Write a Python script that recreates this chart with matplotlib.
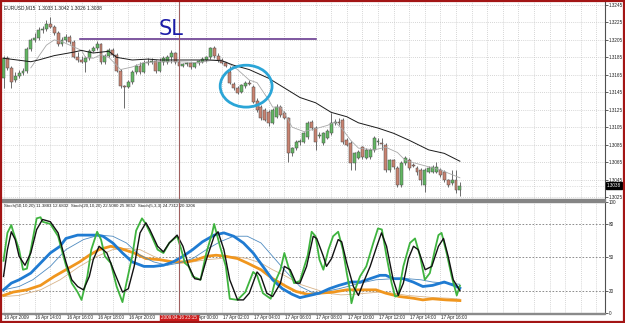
import numpy as np
import matplotlib
matplotlib.use("Agg")
import matplotlib.pyplot as plt
from matplotlib.patches import Ellipse, Rectangle
import matplotlib.transforms as mtransforms

# ---- price data (EURUSD M15, bar 0 = 16 Apr 2009 12:00) ----
opens = [1.3161, 1.3184, 1.3173, 1.3159, 1.3164, 1.3167, 1.3169, 1.3195, 1.3205, 1.3207,
         1.3216, 1.3217, 1.3223, 1.3220, 1.3213, 1.3200, 1.3205, 1.3208, 1.3203, 1.3185,
         1.3182, 1.3180, 1.3184, 1.3192, 1.3196, 1.3200, 1.3180, 1.3187, 1.3193, 1.3188,
         1.3169, 1.3152, 1.3151, 1.3157, 1.3168, 1.3175, 1.3168, 1.3179, 1.3180, 1.3181,
         1.3169, 1.3180, 1.3180, 1.3185, 1.3190, 1.3180, 1.3175, 1.3177, 1.3178, 1.3174,
         1.3179, 1.3180, 1.3182, 1.3185, 1.3196, 1.3186, 1.3182, 1.3178, 1.3168, 1.3155,
         1.3150, 1.3145, 1.3152, 1.3156, 1.3151, 1.3135, 1.3128, 1.3125, 1.3122, 1.3110,
         1.3117, 1.3128, 1.3121, 1.3115, 1.3075, 1.3081, 1.3088, 1.3088, 1.3094, 1.3111,
         1.3104, 1.3095, 1.3087, 1.3093, 1.3098, 1.3110, 1.3111, 1.3113, 1.3090, 1.3087,
         1.3064, 1.3070, 1.3082, 1.3070, 1.3071, 1.3079, 1.3088, 1.3087, 1.3085, 1.3056,
         1.3067, 1.3058, 1.3039, 1.3064, 1.3067, 1.3062, 1.3058, 1.3056, 1.3039, 1.3054,
         1.3054, 1.3054, 1.3056, 1.3054, 1.3044, 1.3041, 1.3044, 1.3033]
highs = [1.3187, 1.3187, 1.3175, 1.3168, 1.3171, 1.3173, 1.3197, 1.3207, 1.3213, 1.3220,
         1.3221, 1.3228, 1.3231, 1.3222, 1.3215, 1.3208, 1.3212, 1.3211, 1.3205, 1.3191,
         1.3187, 1.3187, 1.3195, 1.3198, 1.3204, 1.3201, 1.3189, 1.3196, 1.3196, 1.3190,
         1.3172, 1.3153, 1.3159, 1.3171, 1.3177, 1.3180, 1.3182, 1.3184, 1.3184, 1.3182,
         1.3184, 1.3187, 1.3188, 1.3193, 1.3191, 1.3182, 1.3179, 1.3180, 1.3180, 1.3180,
         1.3182, 1.3185, 1.3187, 1.3197, 1.3198, 1.3190, 1.3184, 1.3180, 1.3175, 1.3157,
         1.3152, 1.3155, 1.3158, 1.3159, 1.3153, 1.3138, 1.3130, 1.3127, 1.3125, 1.3127,
         1.3132, 1.3130, 1.3124, 1.3117, 1.3082, 1.3090, 1.3091, 1.3100, 1.3112, 1.3113,
         1.3106, 1.3099, 1.3100, 1.3103, 1.3121, 1.3114, 1.3115, 1.3116, 1.3093, 1.3089,
         1.3077, 1.3079, 1.3084, 1.3081, 1.3081, 1.3095, 1.3093, 1.3093, 1.3087, 1.3069,
         1.3069, 1.3060, 1.3066, 1.3072, 1.3070, 1.3064, 1.3061, 1.3058, 1.3058, 1.3060,
         1.3062, 1.3065, 1.3058, 1.3056, 1.3046, 1.3056, 1.3056, 1.3042]
lows = [1.3150, 1.3171, 1.3150, 1.3157, 1.3161, 1.3165, 1.3167, 1.3192, 1.3203, 1.3205,
        1.3213, 1.3215, 1.3219, 1.3211, 1.3198, 1.3198, 1.3203, 1.3200, 1.3184, 1.3180,
        1.3178, 1.3168, 1.3182, 1.3191, 1.3193, 1.3177, 1.3177, 1.3185, 1.3185, 1.3168,
        1.3150, 1.3127, 1.3150, 1.3154, 1.3166, 1.3166, 1.3167, 1.3176, 1.3177, 1.3167,
        1.3168, 1.3176, 1.3177, 1.3179, 1.3177, 1.3173, 1.3174, 1.3175, 1.3172, 1.3173,
        1.3176, 1.3179, 1.3180, 1.3183, 1.3184, 1.3180, 1.3177, 1.3174, 1.3154, 1.3148,
        1.3143, 1.3144, 1.3150, 1.3153, 1.3133, 1.3122, 1.3113, 1.3112, 1.3106, 1.3109,
        1.3115, 1.3117, 1.3114, 1.3065, 1.3072, 1.3079, 1.3085, 1.3087, 1.3092, 1.3102,
        1.3079, 1.3093, 1.3085, 1.3091, 1.3096, 1.3107, 1.3108, 1.3086, 1.3083, 1.3056,
        1.3056, 1.3068, 1.3069, 1.3068, 1.3069, 1.3077, 1.3085, 1.3079, 1.3054, 1.3054,
        1.3057, 1.3036, 1.3037, 1.3062, 1.3056, 1.3059, 1.3050, 1.3039, 1.3031, 1.3052,
        1.3052, 1.3052, 1.3048, 1.3042, 1.3037, 1.3039, 1.3030, 1.3026]
closes = [1.3184, 1.3173, 1.3157, 1.3164, 1.3167, 1.3169, 1.3195, 1.3205, 1.3207, 1.3216,
          1.3217, 1.3223, 1.3220, 1.3213, 1.3200, 1.3205, 1.3208, 1.3203, 1.3185, 1.3182,
          1.3180, 1.3184, 1.3192, 1.3196, 1.3200, 1.3180, 1.3187, 1.3193, 1.3188, 1.3169,
          1.3152, 1.3151, 1.3157, 1.3168, 1.3175, 1.3168, 1.3179, 1.3180, 1.3181, 1.3169,
          1.3180, 1.3184, 1.3185, 1.3190, 1.3180, 1.3175, 1.3177, 1.3178, 1.3174, 1.3179,
          1.3181, 1.3183, 1.3185, 1.3196, 1.3186, 1.3182, 1.3178, 1.3175, 1.3156, 1.3150,
          1.3144, 1.3153, 1.3156, 1.3155, 1.3134, 1.3125, 1.3115, 1.3113, 1.3110, 1.3125,
          1.3128, 1.3119, 1.3115, 1.3075, 1.3081, 1.3088, 1.3089, 1.3098, 1.3110, 1.3104,
          1.3088, 1.3096, 1.3098, 1.3101, 1.3110, 1.3111, 1.3110, 1.3088, 1.3085, 1.3064,
          1.3075, 1.3077, 1.3071, 1.3079, 1.3079, 1.3093, 1.3089, 1.3086, 1.3056, 1.3067,
          1.3059, 1.3039, 1.3064, 1.3070, 1.3058, 1.3061, 1.3054, 1.3044, 1.3056, 1.3058,
          1.3059, 1.3059, 1.3050, 1.3044, 1.3039, 1.3044, 1.3033, 1.3038]

# moving averages (bar, price)
ma_slow = [(0, 1.3184), (7, 1.3180), (9, 1.3182), (13, 1.3187), (18, 1.3191), (20, 1.3193),
           (23, 1.3190), (27, 1.3192), (29, 1.3185), (33, 1.3182), (37, 1.3183), (40, 1.3182),
           (45, 1.3182), (53, 1.3182), (56, 1.3181), (59, 1.3176), (63, 1.3171), (68, 1.3161),
           (72, 1.3150), (76, 1.3139), (80, 1.3133), (84, 1.3122), (88, 1.3117), (91, 1.3110),
           (96, 1.3104), (100, 1.3098), (104, 1.3090), (109, 1.3079), (113, 1.3075),
           (117, 1.3066)]
ma_fast = [(7, 1.3173), (11, 1.3199), (13, 1.3205), (15, 1.3203), (18, 1.3197), (20, 1.3193),
           (21, 1.3185), (23, 1.3184), (25, 1.3188), (27, 1.3185), (29, 1.3176), (30, 1.3171),
           (33, 1.3174), (36, 1.3179), (40, 1.3180), (45, 1.3180), (50, 1.3179), (54, 1.3182),
           (57, 1.3180), (60, 1.3171), (63, 1.3159), (65, 1.3156), (68, 1.3136), (69, 1.3128),
           (71, 1.3128), (72, 1.3121), (74, 1.3105), (77, 1.3100), (79, 1.3102), (83, 1.3107),
           (85, 1.3111), (87, 1.3102), (89, 1.3090), (91, 1.3081), (95, 1.3079), (98, 1.3082),
           (101, 1.3076), (103, 1.3067), (107, 1.3062), (112, 1.3056), (117, 1.3047)]

# stochastics (bar, value)
st5_main = [(0, 47), (1, 72), (2, 79), (2.5, 73), (4, 57), (5, 39), (6, 40), (7, 57), (8.5, 85),
            (9.5, 86), (10, 82), (12, 80), (14, 69), (16, 43), (17.5, 27), (19, 19), (20, 12),
            (21.5, 33), (22.5, 57), (24, 73), (25, 66), (26, 51), (27.5, 45), (29, 24),
            (30.5, 10), (31.5, 27), (33, 51), (34, 74), (35.5, 85), (36.5, 80), (38, 69),
            (39.5, 57), (41, 54), (42.5, 63), (44.5, 69), (45.5, 58), (46.5, 45), (47.5, 42),
            (48.5, 33), (50.5, 30), (52, 54), (53.5, 72), (54, 80), (55.5, 60), (57, 42),
            (58, 13), (60, 12), (62, 19), (64, 37), (65, 34), (66.5, 18), (68.5, 13),
            (69.5, 27), (71, 39), (72, 54), (73, 42), (74.5, 27), (76, 29), (78, 52), (79, 73),
            (80, 69), (81, 48), (82, 39), (83.3, 57), (84.5, 69), (85.8, 73), (87, 57), (88, 36),
            (88.8, 21), (89.2, 9), (90.1, 21), (91.4, 33), (93, 42), (94.8, 63), (96, 76),
            (97, 75), (98.2, 51), (99.5, 27), (100.4, 15), (101.2, 16), (102.5, 42),
            (104.2, 63), (105.5, 67), (106.8, 51), (108, 30), (109.3, 36), (110.6, 57),
            (111.5, 70), (112.3, 72), (113.6, 54), (114.9, 33), (116.2, 16), (117, 24.7)]
st5_sig = [(0, 33), (1, 57), (2, 73), (3, 66), (4, 51), (5.5, 43), (7, 54), (8.5, 75), (10, 84),
           (12, 82), (14, 72), (16, 46), (17.5, 30), (19, 24), (20.5, 21), (22, 33), (23, 48),
           (24.5, 60), (26.5, 54), (28.5, 36), (30.5, 19), (32, 22), (33.5, 42), (35, 72),
           (36.5, 81), (37.5, 75), (39.5, 60), (41, 55), (42.5, 63), (44.5, 70), (46, 60),
           (47.5, 42), (49, 31), (50.5, 30), (52, 48), (54, 69), (55, 73), (56.5, 57), (58, 30),
           (60, 12), (61.5, 12), (63, 18), (65, 37), (66, 33), (67.5, 18), (69, 15), (71, 27),
           (72, 42), (73.5, 39), (75, 27), (76, 27), (77.7, 42), (79.4, 69), (80.3, 67),
           (82, 51), (82.8, 42), (84.1, 49), (85.8, 66), (86.7, 64), (88, 45), (89.7, 24),
           (91, 16), (92.2, 27), (94, 42), (95.7, 60), (96.9, 72), (98.2, 60), (99.9, 30),
           (101.2, 16), (102.5, 27), (103.8, 49), (105.1, 60), (106.3, 57), (108.1, 39),
           (109.8, 42), (111.5, 60), (112.8, 67), (114, 51), (115.3, 30), (117, 20.3)]
st20_main = [(0, 21), (2, 27), (4, 30), (7, 36), (9.5, 45), (12, 54), (14.5, 60), (16, 67),
             (19, 70), (21, 70), (24, 70), (25.5, 69), (28, 63), (30.5, 54), (33, 46), (36, 42),
             (38.5, 42), (41, 43), (43.5, 46), (46, 51), (48.5, 57), (51, 64), (54, 70),
             (56.5, 72), (59, 69), (61.5, 63), (64, 54), (66.5, 42), (69, 30), (71.5, 22),
             (74, 17), (76, 14), (78.5, 16), (81, 18), (83.5, 22), (86, 25), (89, 28),
             (91.5, 28), (94, 31), (96.5, 34), (98, 34), (100, 31), (102.5, 31), (105, 28),
             (107.5, 24), (110, 25), (113, 28), (115.5, 25), (117, 22.5)]
st20_sig = [(0, 21), (4, 24), (7.5, 30), (12, 42), (16, 57), (20.5, 66), (24.5, 70), (28, 69),
            (31.5, 63), (35, 52), (38.5, 46), (42, 43), (45, 45), (48.5, 49), (52, 57),
            (55.5, 64), (59, 69), (62.5, 69), (66, 63), (69, 51), (72.5, 37), (76, 24), (79, 19),
            (81, 18.5), (86, 22), (91.5, 27), (95.5, 30), (100, 31), (103.5, 31), (107, 30),
            (110, 28), (113.5, 27), (117, 26)]
st50_main = [(0, 16), (2.5, 19), (6, 21), (9.5, 25), (13, 33), (16, 39), (19.5, 46), (22, 52),
             (24.5, 57), (27.5, 60), (30, 58), (33.5, 54), (36.5, 49), (40, 48), (43.5, 46),
             (47, 46), (49.5, 48), (52, 51), (54.5, 52), (57, 51), (60, 49), (62.5, 45), (66, 39),
             (69, 31), (72.5, 24), (75, 19.5), (78, 17), (81, 18), (84.5, 19), (88, 21),
             (91.5, 21), (95.5, 21), (98, 18), (101.5, 15), (105, 13.5), (107.5, 12), (110, 13),
             (113.5, 12), (117, 11.4)]
st50_sig = [(0, 15), (4, 16), (9.5, 21), (14.5, 30), (19.5, 42), (24, 51), (28, 57), (31.5, 58),
            (35, 57), (38.5, 51), (42, 46), (45, 45), (48.5, 46), (52, 48), (55.5, 49), (59, 51),
            (62.5, 49), (66, 45), (69, 39), (72.5, 33), (76, 26), (79.5, 22), (83, 18),
            (86.5, 16.5), (90, 17), (93, 18), (96.5, 19), (100, 18), (103.5, 16), (107, 15),
            (110.5, 14), (114, 13.5), (117, 12.7)]

price_ticks = [1.3025, 1.3045, 1.3065, 1.3085, 1.3105, 1.3125, 1.3145, 1.3165, 1.3185,
               1.3205, 1.3225, 1.3245]
stoch_ticks = [0, 20, 50, 80, 100]
time_pos = [0, 8, 16, 24, 32, 48, 56, 64, 72, 80, 88, 96, 104, 112]
time_labels = ["16 Apr 2009", "16 Apr 14:00", "16 Apr 16:00", "16 Apr 18:00",
               "16 Apr 20:00", "17 Apr 00:00", "17 Apr 02:00",
               "17 Apr 04:00", "17 Apr 06:00", "17 Apr 08:00", "17 Apr 10:00",
               "17 Apr 12:00", "17 Apr 14:00", "17 Apr 16:00"]

plt.rcParams['font.family'] = ['Liberation Sans', 'DejaVu Sans']
W, H = 625, 323
fig = plt.figure(figsize=(W / 100, H / 100), dpi=100)


def box(l, t, r, b):
    return [l / W, 1 - b / H, (r - l) / W, (b - t) / H]


ax = fig.add_axes(box(2, 2, 605, 199))
ax2 = fig.add_axes(box(2, 201.6, 605, 313.3))

xlim = (-0.385, 154.2)
grid_kw = dict(color='#c8c8c8', lw=0.6, linestyle=(0, (1, 1.5)), zorder=0)
for a in (ax, ax2):
    a.set_xlim(*xlim)
    for s in ('top', 'left', 'bottom'):
        a.spines[s].set_visible(False)
    a.spines['right'].set_color('#505050')
    a.spines['right'].set_linewidth(0.8)
    a.yaxis.tick_right()
    a.tick_params(axis='y', labelsize=3.3, length=1.8, width=0.5, pad=1.0, colors='#202020')
    a.set_xticks([])
    for xv in range(0, 155, 4):
        a.axvline(xv, **grid_kw)

# ---- main price panel ----
ax.set_ylim(1.302271, 1.324844)
ax.set_yticks(price_ticks)
ax.set_yticklabels([f"{p:.4f}" for p in price_ticks])
for p in price_ticks:
    ax.axhline(p, **grid_kw)

idx = np.arange(len(closes))
o = np.array(opens); c = np.array(closes)
up = c >= o
ax.vlines(idx, lows, highs, color='#555555', lw=0.6, zorder=2)
body_h = np.maximum(np.abs(c - o), 0.000012)
ax.bar(idx[up], body_h[up], bottom=np.minimum(o, c)[up], width=0.75,
       color='#62b662', edgecolor='#4d4d4d', lw=0.35, zorder=3)
ax.bar(idx[~up], body_h[~up], bottom=np.minimum(o, c)[~up], width=0.75,
       color='#c98270', edgecolor='#4d4d4d', lw=0.35, zorder=3)

ax.plot(*zip(*ma_fast), color='#a8a8a8', lw=0.6, zorder=4)
ax.plot(*zip(*ma_slow), color='#1a1a1a', lw=0.7, zorder=4)

# annotations
ax.plot([19.6, 80.1], [1.32055, 1.32055], color='#5b2a86', lw=1.1, zorder=5)
ax.text(42.9, 1.3217, "SL", color='#1c1ca8', fontsize=15, ha='center', va='center', zorder=6,
        family='DejaVu Sans')
ax.add_patch(Ellipse((62.2, 1.3152), 13.3, 0.0048, fill=False, edgecolor='#2ba5d7',
                     lw=2.0, zorder=6))
ax.axvline(45, color='#a06060', lw=0.8, zorder=5)
ax.text(0.004, 0.985, "EURUSD,M15  1.3033 1.3042 1.3026 1.3038", transform=ax.transAxes,
        fontsize=3.5, ha='left', va='top', color='#202020')
tr = mtransforms.blended_transform_factory(ax.transAxes, ax.transData)
ax.text(1.003, closes[-1], f"{closes[-1]:.4f}", transform=tr, fontsize=3.3, color='white',
        ha='left', va='center', zorder=10,
        bbox=dict(boxstyle='square,pad=0.2', fc='black', ec='black'))
ax.axhline(closes[-1], color='#c8c8c8', lw=0.5, linestyle=(0, (1, 1.5)), zorder=0)

# ---- stochastic panel ----
ax2.set_ylim(0, 100)
ax2.set_yticks(stoch_ticks)
ax2.set_yticklabels([str(t) for t in stoch_ticks])
for lv in (20, 50, 80):
    ax2.axhline(lv, color='#7a7a7a', lw=0.6, linestyle=(0, (2, 2)), zorder=1)
ax2.plot(*zip(*st50_sig), color='#d8b48a', lw=0.6, zorder=3)
ax2.plot(*zip(*st50_main), color='#f0961e', lw=2.0, zorder=3)
ax2.plot(*zip(*st20_sig), color='#4f8bc0', lw=0.6, zorder=4)
ax2.plot(*zip(*st20_main), color='#1f7bd2', lw=2.0, zorder=4)
ax2.plot(*zip(*st5_main), color='#3fb43f', lw=1.3, zorder=5)
ax2.plot(*zip(*st5_sig), color='#111111', lw=1.0, zorder=6)
ax2.axvline(45, color='#a06060', lw=0.8, zorder=7)
ax2.text(0.004, 0.975,
         "Stoch(50,10,20) 11.3883 12.6832  Stoch(20,10,20) 22.5080 25.9652  Stoch(5,3,3) 24.7312 20.3206",
         transform=ax2.transAxes, fontsize=3.2, ha='left', va='top', color='#202020', zorder=8)

# time axis labels
trx = mtransforms.blended_transform_factory(ax2.transData, fig.transFigure)
for pos, lab in zip(time_pos, time_labels):
    ax2.text(pos + 0.2, 1 - 317.5 / H, lab, transform=trx, fontsize=3.3, ha='left',
             va='center', color='#202020', clip_on=False)
ax2.text(45, 1 - 317.5 / H, "2009.04.16 23:15", transform=trx, fontsize=3.3, ha='center',
         va='center', color='white', clip_on=False, zorder=10,
         bbox=dict(boxstyle='square,pad=0.3', fc='#cc1b1b', ec='#cc1b1b'))

# frame pieces
fig.patches.append(Rectangle((2 / W, 1 - 201.6 / H), 603 / W, 2.4 / H, transform=fig.transFigure,
                             color='#858585', zorder=5))
fig.patches.append(Rectangle((2 / W, 1 - 313.8 / H), 603 / W, 0.8 / H, transform=fig.transFigure,
                             color='#8a8a8a', zorder=5))
fig.patches.append(Rectangle((0.8 / W, 0.8 / H), 1 - 1.6 / W, 1 - 1.6 / H, transform=fig.transFigure,
                             fill=False, edgecolor='#a31515', lw=1.6, zorder=20))

fig.savefig("out.png", dpi=100)
